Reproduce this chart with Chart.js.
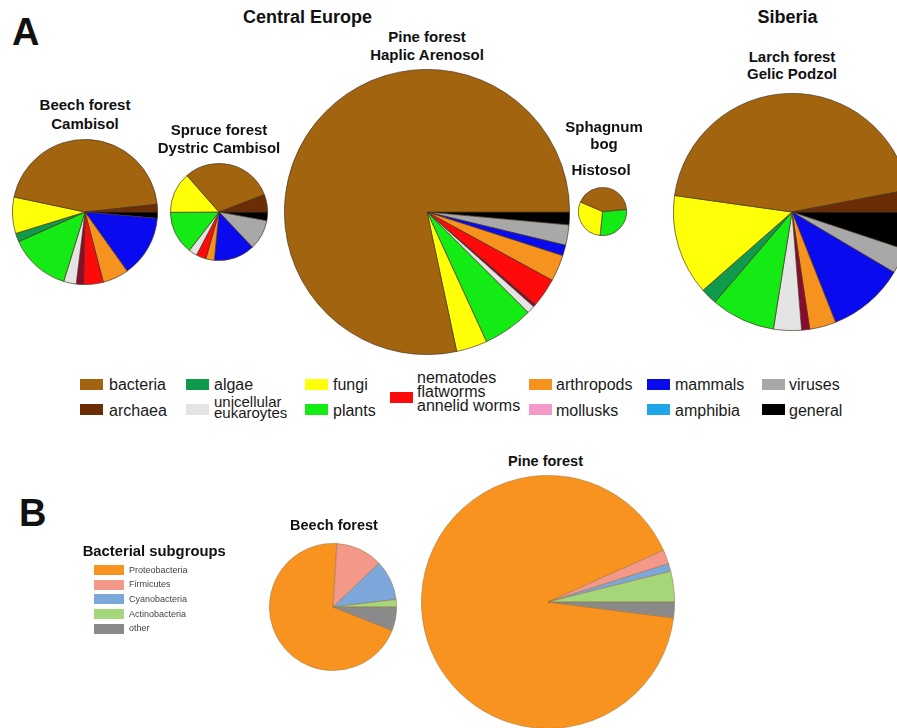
<!DOCTYPE html>
<html>
<head>
<meta charset="utf-8">
<script src="https://cdn.jsdelivr.net/npm/chart.js@4/dist/chart.umd.min.js"></script>
<style>
  html, body { margin:0; padding:0; background:#fff; }
  body { width:897px; height:728px; position:relative; overflow:hidden; font-family:"Liberation Sans", Arial, sans-serif; color:#111; }
  .t { position:absolute; white-space:pre; }
  canvas { position:absolute; }
  .sw { position:absolute; }
</style>
</head>
<body>
<script>
// ---------- DATA ----------
// Panel A categories in clockwise drawing order starting at 3 o'clock
const categoriesA = ['general','viruses','mammals','amphibia','mollusks','arthropods',
  'nematodes, flatworms','annelid worms','unicellular eukaryotes','plants','algae','fungi','bacteria','archaea'];
const beechA    = [1.4, 0,    13.75, 0, 0, 5.8, 4.4, 1.6, 2.8, 13.6, 1.9,  8.1, 45.0, 1.7];
const spruceA   = [2.9, 10.0, 13.6,  0, 0, 2.8, 3.3, 0,   2.8, 14.4, 0,   13.6, 30.6, 5.8];
const pineA     = [1.45, 2.3, 1.2,   0, 0, 3.0, 3.3, 0.3, 0.9, 5.7,  0,    3.5, 78.3, 0];
const sphagnumA = [0,   0,    0,     0, 0, 0,   0,   0,   0,   28.0, 0,   29.9, 42.1, 0];
const larchA    = [5.1, 3.4,  10.5,  0, 0, 3.6, 0,   1.1, 3.8, 8.75, 2.25,13.7, 44.75, 3.0];

// Panel B bacterial subgroups
const subgroupsB = ['Proteobacteria','Firmicutes','Cyanobacteria','Actinobacteria','other'];
const beechB = [70.0, 11.9, 10.2, 1.9, 6.0];
const pineB  = [91.3, 1.8, 1.0, 3.9, 2.0];

// Legend texts
const legendA = [
  ['bacteria'], ['archaea'], ['algae'], ['unicellular','eukaroytes'], ['fungi'], ['plants'],
  ['nematodes','flatworms','annelid worms'], ['arthropods'], ['mollusks'], ['mammals'], ['amphibia'], ['viruses'], ['general']
];

// ---------- STYLES ----------
const colorA = {
  'general':'#000000','viruses':'#a8a8a8','mammals':'#0a0aef','amphibia':'#1ea6e6','mollusks':'#f49ac8',
  'arthropods':'#f6921e','nematodes, flatworms':'#ff0a0a','annelid worms':'#8c0a2e','unicellular eukaryotes':'#e4e4e4',
  'plants':'#14ea14','algae':'#0f9a4c','fungi':'#ffff08','bacteria':'#a2640f','archaea':'#6a2d06'
};
const colorB = ['#f7931e','#f4998a','#7ba7db','#a5d67a','#8a8a8a'];

Chart.defaults.font.family = '"Liberation Sans", Arial, sans-serif';

function pie(data, labels, colors, cx, cy, r, rotation, border) {
  const bw = 0.8;
  const size = Math.round(2*r + bw + 1);
  const c = document.createElement('canvas');
  c.width = size; c.height = size;
  c.style.width = size+'px'; c.style.height = size+'px';
  c.style.left = (cx - size/2)+'px'; c.style.top = (cy - size/2)+'px';
  document.body.appendChild(c);
  const d = [], l = [], col = [];
  data.forEach((v,i)=>{ if (v>0){ d.push(v); l.push(labels[i]); col.push(colors[i]); } });
  new Chart(c, {
    type:'pie',
    data:{ labels:l, datasets:[{ data:d, backgroundColor:col, borderColor:border, borderWidth:bw, hoverOffset:0, offset:0 }]},
    options:{ responsive:false, animation:false, devicePixelRatio:1, rotation:rotation, events:[],
      layout:{padding:0}, plugins:{legend:{display:false}, tooltip:{enabled:false}} }
  });
}

function text(lines, x, baseline, size, lh, weight, align, color) {
  const d = document.createElement('div');
  d.className = 't';
  d.textContent = lines.join('\n');
  d.style.fontSize = size+'px';
  d.style.lineHeight = lh+'px';
  d.style.fontWeight = weight;
  d.style.color = color || '#111';
  const top = baseline - ((lh - 1.117*size)/2 + 0.905*size);
  d.style.top = top+'px';
  if (align === 'center') { d.style.width = '300px'; d.style.left = (x-150)+'px'; d.style.textAlign='center'; }
  else { d.style.left = x+'px'; }
  document.body.appendChild(d);
}
function swatch(x, y, w, h, color) {
  const s = document.createElement('div');
  s.className = 'sw';
  s.style.left = x+'px'; s.style.top = y+'px'; s.style.width = w+'px'; s.style.height = h+'px';
  s.style.background = color;
  document.body.appendChild(s);
}

const colsA = categoriesA.map(k => colorA[k]);
const bA = 'rgba(70,50,30,0.85)';
pie(beechA, categoriesA, colsA, 85, 212, 72, 90, bA);
pie(spruceA, categoriesA, colsA, 219, 212, 48, 90, bA);
pie(pineA, categoriesA, colsA, 427, 212, 142, 90, bA);
pie(sphagnumA, categoriesA, colsA, 602.5, 211, 23.5, 85, bA);
pie(larchA, categoriesA, colsA, 792, 212, 118, 90, bA);
const bB = 'rgba(150,110,60,0.6)';
pie(beechB, subgroupsB, colorB, 333, 607, 63, 111.6, bB);
pie(pineB, subgroupsB, colorB, 548, 602, 126, 97.2, bB);

// Titles
text(['A'], 12, 45, 38, 40, 'bold', 'left');
text(['B'], 19, 526, 38, 40, 'bold', 'left');
text(['Central Europe'], 307.5, 23, 18, 20, 'bold', 'center');
text(['Siberia'], 787.5, 23, 18, 20, 'bold', 'center');
text(['Pine forest','Haplic Arenosol'], 427, 42, 15, 17.5, 'bold', 'center');
text(['Beech forest','Cambisol'], 85, 110.7, 15, 18.5, 'bold', 'center');
text(['Spruce forest','Dystric Cambisol'], 219, 135.5, 15, 17.8, 'bold', 'center');
text(['Sphagnum','bog'], 604, 132.7, 15, 16.6, 'bold', 'center');
text(['Histosol'], 601, 175, 15, 17, 'bold', 'center');
text(['Larch forest','Gelic Podzol'], 792, 62, 15, 17, 'bold', 'center');
text(['Beech forest'], 334, 531, 14.5, 17, 'bold', 'center');
text(['Pine forest'], 545.5, 466.7, 14.5, 17, 'bold', 'center');
text(['Bacterial subgroups'], 82.7, 556.7, 14.8, 17, 'bold', 'left');

// Legend A
const legColA = ['#a2640f','#6a2d06','#0f9a4c','#e4e4e4','#ffff08','#14ea14','#ff0a0a','#f6921e','#f49ac8','#0a0aef','#1ea6e6','#a8a8a8','#000000'];
const legPos = [
  // swatchX, swatchY, textX, baseline, size, lh
  [80,379,109,391,16,16],[80,404,109,416.7,16,16],
  [186,379,214,391,16,16],[186,404,214,406.7,15,11.5],
  [305,379,333,391,16,16],[305,404,333,416.7,16,16],
  [390,392,417,384,16,14],
  [529,379,556,391,16,16],[529,404,556,416.7,16,16],
  [647,379,675,391,16,16],[647,404,675,416.7,16,16],
  [762,379,789,391,16,16],[762,404,789,416.7,16,16]
];
legendA.forEach((lines,i)=>{
  const p = legPos[i];
  swatch(p[0], p[1], 23, 11, legColA[i]);
  text(lines, p[2], p[3], p[4], p[5], 'normal', 'left', '#1a1a1a');
});

// Legend B
subgroupsB.forEach((name,i)=>{
  const y = 565 + i*14.7;
  swatch(94, y, 30, 10, colorB[i]);
  text([name], 129, y+8.3, 9, 11, 'normal', 'left', '#444');
});
</script>
</body>
</html>
